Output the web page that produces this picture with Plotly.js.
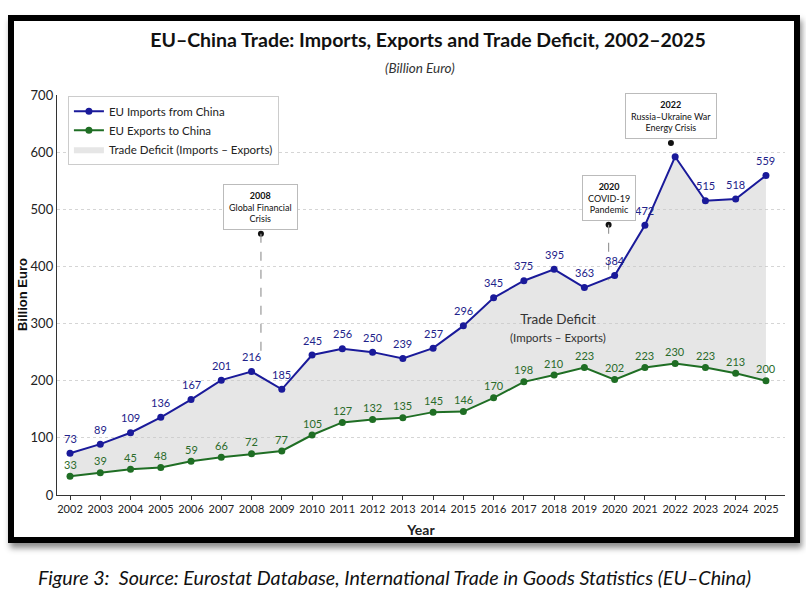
<!DOCTYPE html>
<html><head><meta charset="utf-8">
<script src="https://cdn.plot.ly/plotly-3.0.1.min.js"></script>
<style>
body{margin:0;background:#fff;width:806px;height:598px;overflow:hidden;position:relative}
#chart{position:absolute;left:0;top:0;width:806px;height:598px}
#frame{position:absolute;left:8px;top:15px;width:780px;height:516px;border:6px solid #000;box-shadow:2px 5px 6px rgba(0,0,0,0.45);pointer-events:none}
</style></head>
<body><div id="chart"></div><div id="frame"></div>
<script>
const years = [2002,2003,2004,2005,2006,2007,2008,2009,2010,2011,2012,2013,2014,2015,2016,2017,2018,2019,2020,2021,2022,2023,2024,2025];
const importsEU = [73,89,109,136,167,201,216,185,245,256,250,239,257,296,345,375,395,363,384,472,592,515,518,559];
const exportsEU = [33,39,45,48,59,66,72,77,105,127,132,135,145,146,170,198,210,223,202,223,230,223,213,200];
const hiddenImportLabelYears = [2022];

const eventX = [2008.31, 2019.8, 2021.86];
const eventYear = ['2008', '2020', '2022'];
const eventText = ['Global Financial<br>Crisis', 'COVID-19<br>Pandemic', 'Russia–Ukraine War<br>Energy Crisis'];
const eventDotY = [457, 473, 616];
const eventLineEndY = [245, 376, 616];

const FONT = 'Lato, "Noto Sans", sans-serif';
const NAVY = '#1a1a9a';
const GREEN = '#1f6e24';

const traces = [
  {x: years, y: exportsEU, mode: 'lines', line: {width: 0, color: 'rgba(0,0,0,0)'}, showlegend: false, hoverinfo: 'skip'},
  {x: years, y: importsEU, mode: 'lines', fill: 'tonexty', fillcolor: 'rgba(200,200,200,0.45)',
   line: {width: 0, color: 'rgba(0,0,0,0)'}, name: 'Trade Deficit (Imports – Exports)', legendrank: 3},
  {x: years, y: importsEU, mode: 'lines+markers', name: 'EU Imports from China', legendrank: 1,
   line: {color: NAVY, width: 2}, marker: {color: NAVY, size: 7}},
  {x: years, y: exportsEU, mode: 'lines+markers', name: 'EU Exports to China', legendrank: 2,
   line: {color: GREEN, width: 2}, marker: {color: GREEN, size: 7}},
  {x: eventX, y: eventDotY, mode: 'markers', marker: {color: '#111', size: 6}, showlegend: false, hoverinfo: 'skip'}
];

const annotations = [];
years.forEach((yr, i) => {
  if (!hiddenImportLabelYears.includes(yr)) {
    annotations.push({x: yr, y: importsEU[i], text: String(importsEU[i]), showarrow: false, yshift: 15,
      font: {family: FONT, size: 11, color: '#22228a'}});
  }
  annotations.push({x: yr, y: exportsEU[i], text: String(exportsEU[i]), showarrow: false, yshift: 12,
    font: {family: FONT, size: 11, color: '#2a6b2a'}});
});
const shapes = [];
eventX.forEach((ex, i) => {
  annotations.push({x: ex, y: eventDotY[i], yanchor: 'bottom', yshift: 4, showarrow: false,
    text: '<b>' + eventYear[i] + '</b><br>' + eventText[i],
    font: {family: FONT, size: 9, color: '#111'}, bgcolor: '#fff', bordercolor: '#bbb', borderwidth: 1, borderpad: 5});
  if (eventLineEndY[i] !== eventDotY[i]) {
    shapes.push({type: 'line', x0: ex, x1: ex, y0: eventDotY[i], y1: eventLineEndY[i],
      line: {color: '#999', width: 1.2, dash: 'dash'}});
  }
});
annotations.push({x: 2018.14, y: 293, text: 'Trade Deficit<br><span style="font-size:11.5px">(Imports – Exports)</span>',
  showarrow: false, font: {family: FONT, size: 13.5, color: '#333'}});
annotations.push({xref: 'paper', yref: 'paper', x: 0.4986, y: 1.0675, yanchor: 'middle', text: '<i>(Billion Euro)</i>', showarrow: false,
  font: {family: FONT, size: 13.5, color: '#333'}});
annotations.push({xref: 'paper', yref: 'paper', x: 0.464, y: -0.205, yanchor: 'middle', text: '<i>Figure 3:  Source: Eurostat Database, International Trade in Goods Statistics (EU–China)</i>',
  showarrow: false, font: {family: FONT, size: 19.7, color: '#111'}});
annotations.push({xref: 'paper', yref: 'paper', x: -0.048, xanchor: 'center', y: 0.5, textangle: -90, text: '<b>Billion Euro</b>', showarrow: false,
  font: {family: 'Liberation Sans, Arial, sans-serif', size: 13, color: '#111'}});

const layout = {
  width: 806, height: 598,
  margin: {l: 57, r: 21, t: 95, b: 103},
  paper_bgcolor: '#fff', plot_bgcolor: '#fff',
  title: {text: '<b>EU–China Trade: Imports, Exports and Trade Deficit, 2002–2025</b>', x: 0.531, xanchor: 'center', y: 0.933, yanchor: 'middle',
    font: {family: FONT, size: 19.5, color: '#111'}},
  xaxis: {range: [2001.57, 2025.63], tickvals: years, ticktext: years.map(String), showgrid: false, zeroline: false,
    showline: true, linecolor: '#333', linewidth: 1.2, ticks: 'outside', ticklen: 4, tickcolor: '#333',
    tickfont: {family: FONT, size: 11, color: '#222'},
    title: {text: '<b>Year</b>', font: {family: FONT, size: 14, color: '#222'}, standoff: 10}},
  yaxis: {range: [0, 700], tickvals: [0,100,200,300,400,500,600,700], showgrid: true, gridcolor: '#d5d5d5', griddash: 'dot', gridwidth: 1,
    zeroline: false, showline: true, linecolor: '#333', linewidth: 1.2, ticks: '',
    tickfont: {family: FONT, size: 13, color: '#222'}},
  legend: {x: 0.015, y: 0.998, xanchor: 'left', yanchor: 'top', bgcolor: '#fff', bordercolor: '#ccc', borderwidth: 1,
    font: {family: FONT, size: 11.5, color: '#222'}, traceorder: 'normal', tracegroupgap: 0},
  annotations: annotations,
  shapes: shapes,
  showlegend: true
};
Plotly.newPlot('chart', traces, layout, {displayModeBar: false, staticPlot: true});
</script>
</body></html>
